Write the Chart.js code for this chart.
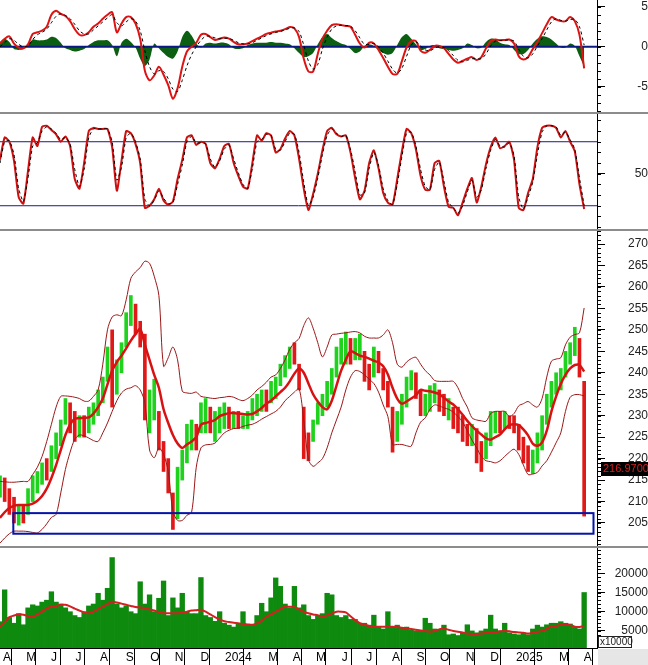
<!DOCTYPE html>
<html>
<head>
<meta charset="utf-8">
<script src="https://cdn.jsdelivr.net/npm/chart.js"></script>
<style>
  body { margin: 0; background: #fff; width: 648px; height: 665px; overflow: hidden; position: relative; }
  canvas { position: absolute; left: 0; }
  .sep { position: absolute; left: 0; width: 648px; height: 2px; background: #8c8c8c; }
</style>
</head>
<body>
<canvas id="macd" width="648" height="112" style="top:0"></canvas>
<div class="sep" style="top:112px"></div>
<canvas id="stoch" width="648" height="115" style="top:114px"></canvas>
<div class="sep" style="top:229px"></div>
<canvas id="price" width="648" height="315" style="top:231px"></canvas>
<div class="sep" style="top:546px"></div>
<canvas id="vol" width="648" height="117" style="top:548px"></canvas>
<div style="position:absolute;left:598px;top:649px;width:50px;height:16px;background:#e6e6e6"></div>
<script>
// one sample every 4 trading days, Apr 2023 .. 3 Apr 2025
const STEP = 4;
const X_MAX = 511;

const monthLabel = ['A','M','J','J','A','S','O','N','D','2024','M','A','M','J','J','A','S','O','N','D','2025','M','A'];
const monthDay = [0,20,41,62,83,105,126,147,169,190,227,248,268,290,311,333,354,374,396,417,439,476,497];

// price (candle range per sample)
const lo = [211,210,207,205,204.5,205,207,210,212,214,
  215,217,220,223,228,226,224,225,225,226,
  228,230,233,238,232,235,240,246,251,249,
  246,229,226,229,222,217,212,203.5,206,215,
  219,222,222,226,226,226,224,226,227,227,
  227,227,227,227,229,230,231,231,233,234,
  237,239,241,242,236,220,219.5,224,228,230,
  232,235,239,242,242,242,243,243,238,236,
  239,240,236,232,221.5,224,228,232,236,234,
  230,230,231,233,231,230,229,227,226,224,
  223,223,219,217,220,223,226,226,227,227,
  226,222,219,217,216.5,219,222,228,232,235,
  236,239,242,244,239,206.6];
const hi = [216,215.5,213,211,209,209,213,216,217,219,
  220,223,226,229,234,233,231,230,230,232,
  233,236,239,246,250,243,247,254,258,256,
  252,249,236,238.5,231,224,220,212,218,222,
  228,229,228,233,234,232,231,232,233,232,
  231,231,230,231,234,235,236,236,238,239,
  242,244,246,247,242,232,226,229,233,235,
  238,241,246,248,249.5,248,248,249,245,242,
  246,245,241,238,232,231,235,239,240.5,240,
  236,235,237,237.5,236,235,234,232,232,230,
  228,228,227,224,226,231,231,231,231,230,
  230,228,225,223,222,226,230,235,238,240,
  241,245,247,250.6,248,238];
const up = [1,0,0,0,1,0,1,1,1,1,
  0,1,1,1,1,0,0,1,0,1,
  1,1,1,1,0,1,1,1,1,0,
  0,0,1,1,0,0,0,0,1,1,
  1,1,0,1,1,0,1,1,1,0,
  1,0,1,1,1,1,1,0,1,1,
  1,1,1,0,0,0,0,1,1,1,
  1,1,1,1,1,0,1,1,0,0,
  1,0,0,0,0,1,1,1,1,0,
  0,1,1,1,0,0,1,0,0,0,
  0,1,0,0,1,1,1,0,1,0,
  0,0,0,0,1,1,1,1,1,1,
  1,1,1,1,0,0];
const lastPrice = 216.97;

const ma = [206.2,207.5,208.5,209,209.2,209.2,209.2,209.5,210.2,211.3,
  213,215.5,218.5,222,225.5,228,229.3,229.4,229.5,229.6,
  230.5,232,234,237.3,240.5,242.5,244,245.7,247.5,249,
  250.2,246.5,243,239.5,236.5,231.5,228.3,225.5,223.5,222.5,
  223.3,224,225,227.9,228.3,228.6,229,229.9,230.3,230.6,
  230.6,230.5,230.4,230.3,230.4,231,231.8,232.8,233.5,234.5,
  235.5,236.5,238,239.8,241,240,237.5,235,233.3,232,
  231.5,233.5,237,240.5,243,245,244.6,244,243.7,243.3,
  242.8,242.4,241.5,239.6,236.5,234,232.8,233.3,234,234.8,
  236,235.8,235.7,235.4,235,234.2,233.3,232.6,231.5,230.2,
  228.8,227.6,226.5,225.6,224.7,224.4,225,225.6,226.8,227.8,
  228,227.8,226.8,225.4,223.5,223,223.8,226.5,231,234.5,
  237.4,239.5,241,241.8,241.8,240.3];
const bbUp = [214.7,214.6,214.5,214.5,214.6,214.7,214.7,216.3,218,220.5,
  224,228,232,234.5,234.6,234.5,234.3,234,233.4,233.4,
  234.5,236,242,250,253,253.5,253.3,257,262,263.5,
  264.5,266,265.5,262.5,258,241.5,243.5,246,243,235.7,
  235.3,235.2,235.5,234.5,234.3,234.1,234,234.2,234.3,234.5,
  234.3,233.8,233.5,234,234.8,236,236.8,237.8,239,239.5,
  241,243,245.5,247,248,251,252.8,250.4,247,243.7,
  246,248.8,249,249.2,249.3,249.5,249.6,249.3,248.5,248.1,
  248.1,248.1,248.8,250,247,242,241.3,242.5,243.3,243.6,
  242,240.5,239.5,238.2,238,238,238,238,236.5,234,
  232,229.5,229,228.8,228.7,230.5,231,231,231,229.8,
  230.5,232.3,232.8,233.3,232.5,232,234,239,242.7,243.2,
  243.5,246.5,248.3,248.9,249.3,255.1];
const bbLow = [200.3,201.5,202.5,203.1,203.1,203.1,203,202.8,202.7,203.5,
  204.8,206.3,207,212,217.5,221.5,224.5,225.5,225.3,224.8,
  224.2,224,226,228.3,231,233.5,235.3,236.2,236.5,237,
  236,233,222,220.2,222.5,221,217,207.7,205.6,205.6,
  206.8,207.5,218,222.5,223.2,223.3,223.6,224.8,226,226.6,
  227,227.1,227.5,227.8,228,228.5,229.2,229.8,230.4,231,
  232,233.5,234.5,235.5,236.3,229,219.8,218.2,219,220,
  222.5,226,229,232,236,239,240.5,240.3,239.5,238.5,
  237.5,235.5,232.5,229.8,223.3,223.3,223.3,223,222.9,226,
  228.5,229.5,231.5,232.5,232.3,231.8,231.5,230.8,229.8,228.5,
  226.5,224.3,222.5,220.5,219.5,219.3,219,219.5,220.5,221.5,
  222.2,221,218.5,216.3,216.4,216.8,218.3,219.5,221.5,223.7,
  226,231,234.3,234.9,234.9,234.6];
const zone = { from: 11.4, to: 508, top: 207.3, bottom: 202.5 };

// volume (x10000)
const vol = [7400,15700,8500,7000,9500,6600,11000,11800,11500,12500,
  13000,15200,12500,12000,11000,10000,9000,8500,10000,11500,
  12000,14800,13000,16100,24100,12000,11000,11500,10000,9500,
  17800,12000,14400,10000,13500,18000,9000,13600,11000,14800,
  10000,9500,9500,18900,9000,8500,7500,10000,7000,6500,
  6000,6800,10000,6500,6600,9000,12200,10000,13600,18800,
  16600,12000,11000,16600,11000,11800,9000,8000,9000,9500,
  14800,14400,9000,8500,9000,8000,8000,7000,7000,6500,
  9100,6000,5500,10000,6000,6500,5800,6000,5200,5000,
  5000,8300,7000,5500,5200,6500,4000,4200,3800,4500,
  6600,5000,4500,5000,5500,9100,5500,5000,7000,4500,
  4200,4000,4500,4000,5500,6500,6000,6600,7000,7000,
  7400,7000,6800,6000,5500,15000];
const volMa = [6100,7300,8600,9000,9300,9200,8900,8700,9300,10000,
  10800,11300,11500,11800,11800,11400,10800,10300,9800,9600,
  10000,10700,11300,12000,12600,12400,12100,11800,11500,11200,
  11100,10900,10600,10300,9900,9600,9600,9600,9600,9700,
  10000,10300,10400,10500,10000,9300,8600,8000,7500,7300,
  7100,7000,6800,6700,6600,7000,7600,8700,9300,10000,
  10700,11300,11300,11200,10600,10000,9600,9300,9100,8800,
  9000,9500,10000,10000,9800,8800,7800,7000,6600,6300,
  6100,6100,6100,6100,6100,6000,5800,5600,5500,5300,
  5100,5000,4800,5000,5400,5600,5300,5000,4800,4600,
  4300,4200,4200,4300,4500,4600,4700,4900,5000,4900,
  4700,4600,4500,4300,4500,4800,5000,5500,6200,6300,
  6600,6800,6500,6100,6000,6300];

// MACD
const macd = [0.4,1.0,1.3,0.4,-0.1,-0.2,0.3,1.6,1.8,2.0,
  2.5,4.0,4.5,4.1,3.85,3.2,2.2,1.5,1.45,1.8,
  2.5,2.9,3.5,4.0,4.3,1.8,2.9,3.7,3.7,2.9,
  1.0,-3.0,-4.2,-3.6,-2.5,-3.5,-4.8,-6.5,-5.2,-2.5,
  -0.6,0,0.5,1.5,1.6,1.2,0.85,1.0,1.15,1.0,
  0.6,0.3,0.3,0.4,0.7,1.0,1.3,1.6,1.75,1.9,
  2.0,2.2,2.45,2.3,1.2,-1.5,-3.1,-3.1,-0.9,1.0,
  2.0,2.7,2.8,2.7,2.6,2.5,1.5,0.4,-0.1,0.5,
  0.4,-0.4,-1.4,-2.5,-3.4,-3.4,-1.8,-0.1,0.7,0.7,
  -0.5,-0.75,-0.4,0.1,0.1,-0.2,-0.9,-1.6,-2.0,-1.75,
  -1.5,-1.3,-1.67,-1.3,-0.2,0.7,0.9,0.8,0.85,0.9,
  0.4,-1.2,-1.6,-1.3,-0.3,0.6,1.7,2.8,3.7,3.4,
  3.2,3.2,3.7,3.2,1.5,-2.7];
const signal = [0.0,0.5,1.0,0.8,0.3,0.0,0.1,0.9,1.5,1.8,
  2.2,3.0,3.8,4.1,3.9,3.5,2.8,2.0,1.6,1.6,
  2.1,2.6,3.1,3.6,4.0,3.0,2.6,3.1,3.5,3.2,
  2.0,-0.5,-2.5,-3.4,-3.0,-3.1,-4.0,-5.3,-5.6,-4.2,
  -2.4,-1.0,0,0.8,1.3,1.3,1.1,1.0,1.05,1.05,
  0.8,0.5,0.35,0.35,0.5,0.8,1.1,1.4,1.6,1.8,
  1.9,2.1,2.3,2.35,1.9,0.2,-1.8,-2.8,-2.2,-0.3,
  1.2,2.2,2.6,2.7,2.65,2.55,2.0,1.1,0.3,0.3,
  0.4,0.0,-0.8,-1.8,-2.8,-3.3,-2.7,-1.2,0.2,0.6,
  0.1,-0.4,-0.5,-0.2,0,-0.1,-0.5,-1.1,-1.7,-1.9,
  -1.7,-1.5,-1.5,-1.5,-0.9,0.1,0.7,0.8,0.8,0.85,
  0.7,-0.3,-1.2,-1.4,-0.9,0.1,1.0,2.1,3.1,3.5,
  3.3,3.2,3.4,3.4,2.5,0.2];
const hist = [0.6,1.0,0.6,-0.3,-0.4,-0.3,0.2,0.9,0.8,0.8,
  0.9,1.25,1.1,0.5,-0.2,-0.4,-0.6,-0.5,-0.3,0.2,
  0.6,0.8,0.8,0.8,0.2,-1.2,0.5,1.0,0.6,-0.1,
  -1.5,-2.4,-1.6,0.4,-0.2,-0.8,-1.3,-1.5,-0.6,1.2,
  2.0,1.4,0.4,-0.1,0.4,0.5,0.4,0.5,0.5,0.3,
  -0.2,-0.3,-0.2,0.2,0.4,0.5,0.5,0.5,0.6,0.5,
  0.5,0.4,0.3,-0.2,-0.8,-1.3,-1.2,-0.8,0.3,1.2,
  1.6,1.1,0.7,0.4,0.2,-0.3,-0.8,-0.6,0.1,0.3,
  0.1,-0.4,-0.8,-1.0,-0.8,0.2,1.2,1.6,1.0,0.3,
  -0.4,-0.3,0.1,0.2,-0.2,-0.3,-0.4,-0.5,-0.4,-0.2,
  0.4,0.2,-0.2,-0.1,0.6,1.0,0.9,0.5,0.3,0.2,
  -0.4,-0.9,-0.9,-0.4,0.4,1.0,1.3,1.2,0.9,0.4,
  -0.1,-0.1,0.4,0.1,-1.2,-2.5];

// Stochastic
const stochK = [63,84,80,62,28,22,53,84,76,94,
  95,91,87,80,85,76,45,36,60,90,
  93,92,92,92,75,34,62,90,88,78,
  60,18,20,26,36,25,21,24,45,63,
  84,86,77,80,78,60,55,64,76,78,
  60,48,38,36,60,86,81,88,86,70,
  73,83,90,86,64,36,16,31,50,72,
  90,93,87,85,86,70,46,26,34,60,
  72,55,32,23,21,45,71,92,88,73,
  48,35,35,60,62,38,19,18,11,23,
  36,46,23,38,59,75,84,74,76,80,
  63,18,16,32,45,75,93,95,95,93,
  84,90,80,71,40,17];
const stochD = [60,80,81,68,36,24,46,76,79,90,
  94,92,88,82,84,78,54,38,54,84,
  92,92,92,92,80,44,56,84,88,80,
  64,26,20,25,34,27,22,23,40,58,
  80,85,79,79,78,64,56,62,73,77,
  64,51,40,36,55,80,82,87,86,73,
  72,80,88,87,70,42,20,28,46,68,
  86,92,88,85,86,73,52,30,32,55,
  70,58,36,25,21,40,66,88,89,76,
  54,38,35,54,61,43,23,18,13,20,
  33,44,28,35,55,72,82,76,75,79,
  67,28,17,28,42,68,89,95,95,94,
  86,89,82,73,46,20];
const stochLevels = [80, 20];
const macdZero = 0;

Chart.defaults.font.family = '"Liberation Sans", Arial, sans-serif';
Chart.defaults.font.size = 12;
Chart.defaults.animation = false;

const xy = arr => arr.map((v, i) => ({ x: i * STEP, y: v }));
const level = v => [{ x: 0, y: v }, { x: X_MAX, y: v }];
const line = (data, color, width, extra) => Object.assign({
  type: 'line', data: data, borderColor: color, borderWidth: width,
  pointRadius: 0, tension: 0.3, fill: false
}, extra || {});

// short ticks between the labelled ones
const minorTicks = {
  id: 'minorTicks',
  afterDraw(chart, args, opts) {
    const s = chart.scales.y, ctx = chart.ctx;
    const n0 = Math.ceil(s.min / opts.step), n1 = Math.floor(s.max / opts.step);
    ctx.save();
    ctx.strokeStyle = '#000';
    ctx.lineWidth = 1;
    ctx.beginPath();
    for (let n = n0; n <= n1; n++) {
      const y = Math.round(s.getPixelForValue(n * opts.step)) + 0.5;
      ctx.moveTo(s.left, y);
      ctx.lineTo(s.left + 4, y);
    }
    ctx.stroke();
    ctx.restore();
  }
};

function yAxis(min, max, majors, pad) {
  return {
    position: 'right', min: min, max: max,
    afterFit: s => { s.width = 51; s.paddingTop = 0; s.paddingBottom = 0; },
    afterBuildTicks: s => { s.ticks = majors.map(v => ({ value: v })); },
    border: { display: true, color: '#000', width: 1 },
    grid: { drawOnChartArea: false, drawTicks: true, tickLength: 8, color: '#000' },
    ticks: { crossAlign: 'far', padding: pad, color: '#222', callback: v => String(v) }
  };
}
const xHidden = { type: 'linear', min: 0, max: X_MAX, offset: false, display: false };

function baseOptions(scales, minorStep) {
  return {
    responsive: false, events: [],
    layout: { padding: 0 },
    scales: scales,
    plugins: { legend: { display: false }, tooltip: { enabled: false }, minorTicks: { step: minorStep } }
  };
}

// MACD panel
new Chart(document.getElementById('macd'), {
  type: 'line',
  data: { datasets: [
    line(xy(signal), '#000', 1, { borderDash: [3, 3], order: 0 }),
    line(xy(macd), '#dd1414', 2, { order: 1 }),
    line(level(macdZero), '#0a1a80', 2, { tension: 0, order: 2 }),
    line(xy(hist), 'rgba(0,0,0,0)', 0, { fill: 'origin', backgroundColor: '#0b5e12', order: 3 })
  ] },
  options: baseOptions({ x: xHidden, y: yAxis(-8.16, 5.84, [-5, 0, 5], 27) }, 1),
  plugins: [minorTicks]
});

// Stochastic panel
new Chart(document.getElementById('stoch'), {
  type: 'line',
  data: { datasets: [
    line(xy(stochD), '#000', 1, { borderDash: [3, 3], tension: 0.2, order: 0 }),
    line(xy(stochK), '#cc1010', 2, { tension: 0.2, order: 1 }),
    line(level(stochLevels[0]), '#1a1a80', 1, { tension: 0, order: 2 }),
    line(level(stochLevels[1]), '#1a1a80', 1, { tension: 0, order: 2 })
  ] },
  options: baseOptions({ x: xHidden, y: yAxis(-1.8, 106, [50], 24) }, 10),
  plugins: [minorTicks]
});

// support zone and last price tag
const zoneBox = {
  id: 'zoneBox',
  afterDatasetsDraw(chart) {
    const x = chart.scales.x, y = chart.scales.y, ctx = chart.ctx;
    const x0 = x.getPixelForValue(zone.from), x1 = x.getPixelForValue(zone.to);
    const y0 = y.getPixelForValue(zone.top), y1 = y.getPixelForValue(zone.bottom);
    ctx.save();
    ctx.strokeStyle = '#0614a8';
    ctx.lineWidth = 2;
    ctx.strokeRect(x0, y0, x1 - x0, y1 - y0);
    ctx.restore();
  },
  afterDraw(chart) {
    const s = chart.scales.y, ctx = chart.ctx;
    const y = Math.round(s.getPixelForValue(lastPrice));
    ctx.save();
    ctx.fillStyle = '#000';
    ctx.fillRect(s.left + 4, y - 10, chart.width - s.left - 4, 14);
    ctx.fillStyle = '#d42020';
    ctx.font = '11px "Liberation Sans", Arial, sans-serif';
    ctx.textBaseline = 'middle';
    ctx.fillText(lastPrice.toFixed(4), s.left + 6, y - 3);
    ctx.restore();
  }
};

// Price panel
const priceTicks = [];
for (let v = 205; v <= 270; v += 5) priceTicks.push(v);
new Chart(document.getElementById('price'), {
  type: 'bar',
  data: { datasets: [
    line(xy(ma), '#d81212', 2.5, { order: 0 }),
    line(xy(bbUp), '#9a1818', 1, { order: 1 }),
    line(xy(bbLow), '#9a1818', 1, { order: 1 }),
    { type: 'bar', order: 2, barThickness: 3,
      data: lo.map((l, i) => ({ x: i * STEP, y: [l, hi[i]] })),
      backgroundColor: up.map(u => u ? '#1ed21e' : '#e01818') }
  ] },
  options: baseOptions({ x: xHidden, y: yAxis(199.64, 273.03, priceTicks, 18) }, 1),
  plugins: [minorTicks, zoneBox]
});

// unit box under the volume axis
const unitBox = {
  id: 'unitBox',
  afterDraw(chart) {
    const s = chart.scales.y, ctx = chart.ctx, b = chart.chartArea.bottom;
    ctx.save();
    ctx.fillStyle = '#fff';
    ctx.fillRect(s.left + 1, b - 12, 33, 12);
    ctx.strokeStyle = '#222';
    ctx.lineWidth = 1;
    ctx.strokeRect(s.left + 1.5, b - 11.5, 33, 11);
    ctx.fillStyle = '#222';
    ctx.font = '10px "Liberation Sans", Arial, sans-serif';
    ctx.textBaseline = 'middle';
    ctx.fillText('x10000', s.left + 3, b - 5.5);
    ctx.restore();
  }
};

// Volume panel
new Chart(document.getElementById('vol'), {
  type: 'bar',
  data: { datasets: [
    line(xy(volMa), '#d42020', 2, { order: 0 }),
    { type: 'bar', order: 1, data: xy(vol), backgroundColor: '#0e8a0e',
      barPercentage: 1, categoryPercentage: 1 }
  ] },
  options: baseOptions({
    x: {
      type: 'linear', min: 0, max: X_MAX, offset: false, position: 'bottom',
      afterFit: s => { s.height = 17; s.paddingLeft = 0; s.paddingRight = 0; },
      afterBuildTicks: s => { s.ticks = monthDay.map(v => ({ value: v })); },
      border: { display: true, color: '#000', width: 1 },
      grid: { drawOnChartArea: false, drawTicks: true, tickLength: 17, color: '#000' },
      ticks: { autoSkip: false, maxRotation: 0, align: 'start', labelOffset: 3, padding: -15,
        color: '#000', callback: (v, i) => monthLabel[i] }
    },
    y: yAxis(550, 26590, [5000, 10000, 15000, 20000], 4)
  }, 1000),
  plugins: [minorTicks, unitBox]
});
</script>
</body>
</html>
